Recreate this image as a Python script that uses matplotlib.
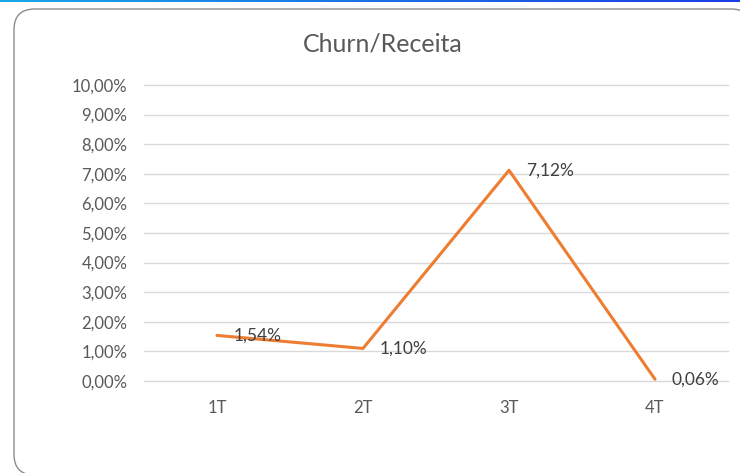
import matplotlib.pyplot as plt
from matplotlib.patches import FancyBboxPatch
from matplotlib.colors import LinearSegmentedColormap
import numpy as np

# data
quarters = ["1T", "2T", "3T", "4T"]
churn_pct = [1.54, 1.10, 7.12, 0.06]
y_ticks = [0, 1, 2, 3, 4, 5, 6, 7, 8, 9, 10]

W, H = 740, 473
fig = plt.figure(figsize=(W / 100, H / 100), dpi=100)
plt.rcParams['font.family'] = ['Lato', 'DejaVu Sans']

# rounded frame around the chart (pixel coords -> figure fraction)
def px(x, y):
    return x / W, 1 - y / H

x0, y0 = px(14, 475)
x1, y1 = px(752, 9)
frame = FancyBboxPatch((x0, y0), x1 - x0, y1 - y0,
                       boxstyle="round,pad=0,rounding_size=0.028",
                       transform=fig.transFigure, facecolor="white",
                       edgecolor="#8c8c8c", linewidth=1.0,
                       mutation_aspect=W / H, zorder=-5)
fig.patches.append(frame)

# blue strip at the very top
strip = fig.add_axes([0, 1 - 2 / H, 1, 2 / H])
strip.imshow(np.linspace(0, 1, 256)[None, :], aspect="auto",
             cmap=LinearSegmentedColormap.from_list("b", ["#1aa6e6", "#1a3ee6"]))
strip.axis("off")

ax = fig.add_axes([144 / W, 1 - 381 / H, (728 - 144) / W, (381 - 85) / H])
ax.set_facecolor("none")
ax.set_zorder(2)

x = np.arange(len(quarters))
ax.plot(x, churn_pct, color="#ED7D31", linewidth=2.2, solid_capstyle="round", zorder=3)

for xi, v in zip(x, churn_pct):
    ax.annotate(f"{v:.2f}%".replace(".", ","), (xi, v), xytext=(12, 0),
                textcoords="offset points", ha="left", va="center",
                fontsize=12.5, color="#404040", zorder=4)

ax.set_xlim(-0.5, len(quarters) - 0.5)
ax.set_ylim(0, 10)
ax.set_yticks(y_ticks)
ax.set_yticklabels([f"{t:.2f}%".replace(".", ",") for t in y_ticks])
ax.set_xticks(x)
ax.set_xticklabels(quarters)
ax.tick_params(axis="both", length=0, colors="#595959", labelsize=12)
ax.tick_params(axis="y", pad=12)
ax.tick_params(axis="x", pad=14)
ax.grid(axis="y", color="#d9d9d9", linewidth=1)
for gl in ax.get_ygridlines():
    gl.set_clip_on(False)
ax.set_axisbelow(True)
for s in ax.spines.values():
    s.set_visible(False)

fig.text(383 / W, 1 - 44 / H, "Churn/Receita", ha="center", va="center",
         fontsize=18, color="#595959")

fig.savefig("out.png", dpi=100)
